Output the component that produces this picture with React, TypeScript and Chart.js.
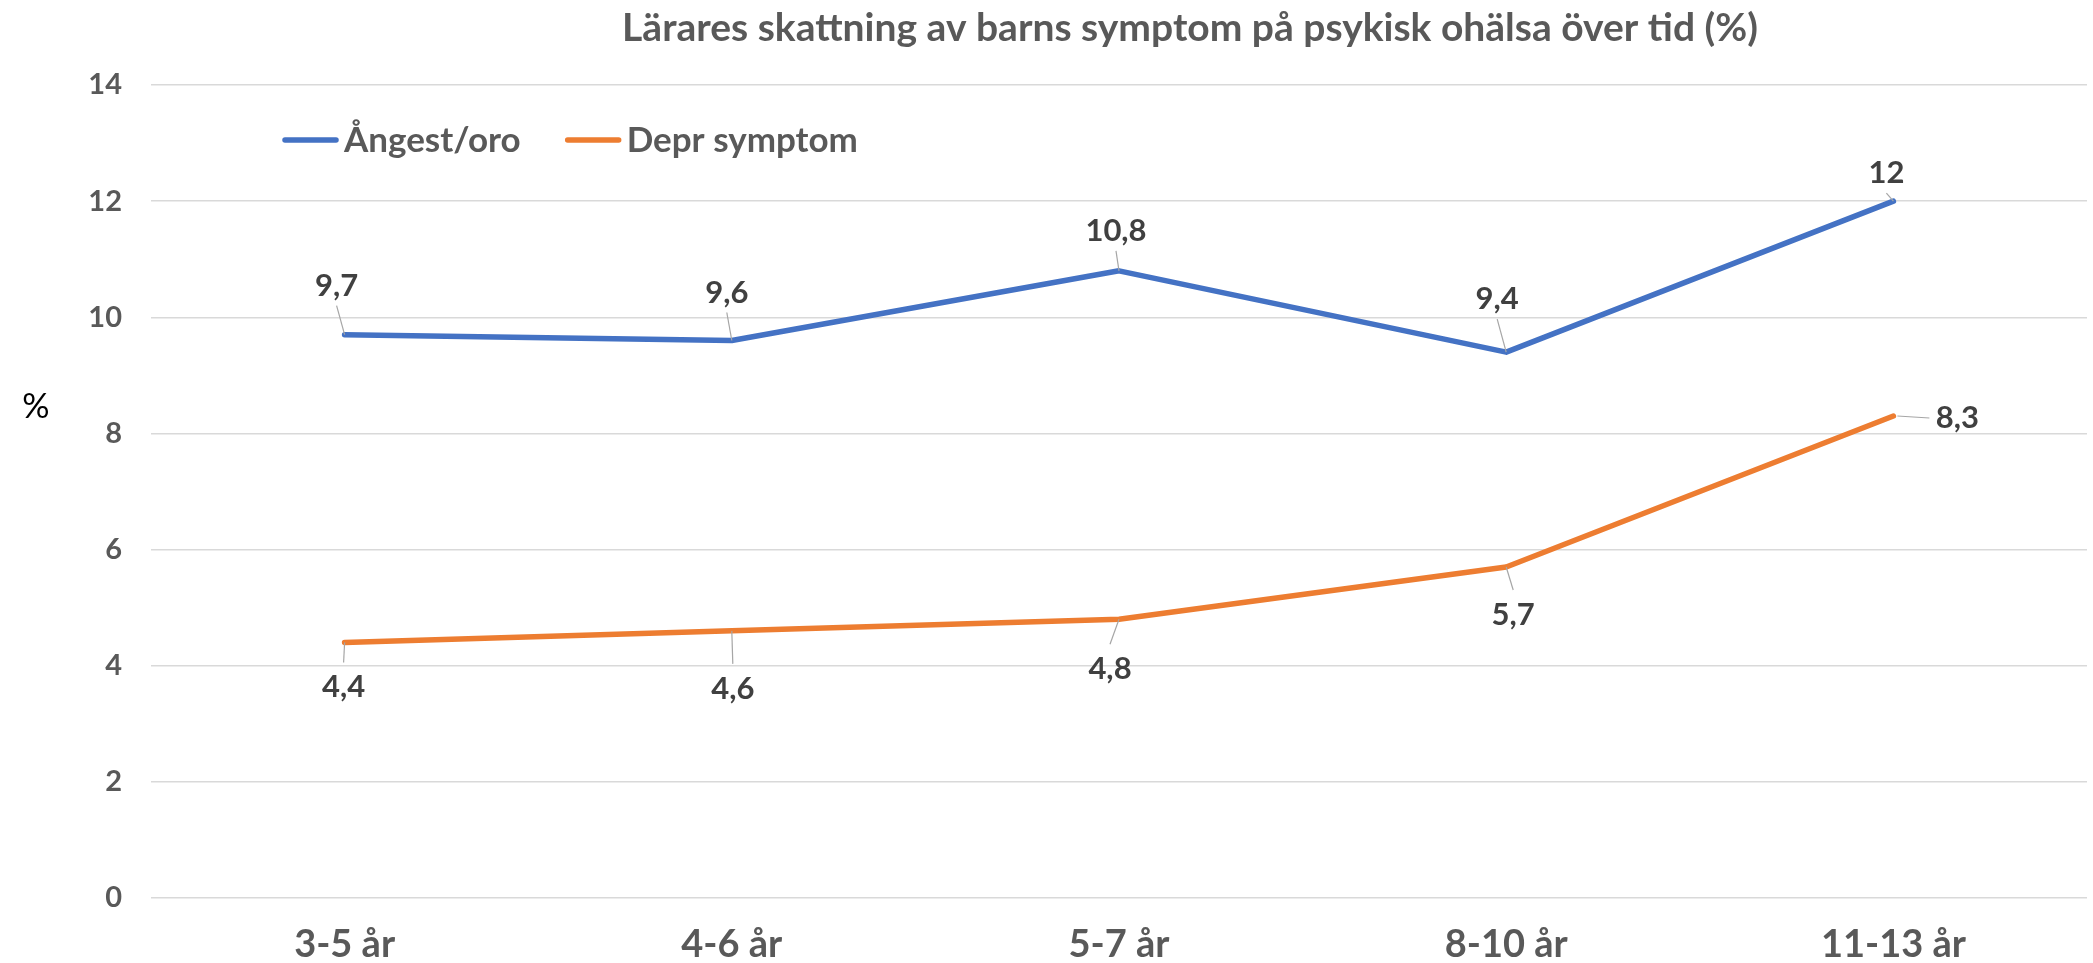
import React, { useEffect, useRef } from "react";
import { Chart, registerables } from "chart.js";

Chart.register(...registerables);

const categories = ["3-5 år", "4-6 år", "5-7 år", "8-10 år", "11-13 år"];
const angestValues = [9.7, 9.6, 10.8, 9.4, 12];
const deprValues = [4.4, 4.6, 4.8, 5.7, 8.3];
const seriesNames = ["Ångest/oro", "Depr symptom"];
const seriesColors = ["#4472C4", "#ED7D31"];
const yTicks = [0, 2, 4, 6, 8, 10, 12, 14];
const titleText = "Lärares skattning av barns symptom på psykisk ohälsa över tid (%)";
const yAxisTitle = "%";

// label placement offsets (layout only, px relative to the point)
const labelOffsets = [
  [[-8, -49], [-5, -48], [-3, -40], [-9, -53], [-7, -28]],
  [[-1, 45], [1, 58], [-9, 50], [7, 48], [64, 2]],
];

const FONT = "Lato, 'Open Sans', sans-serif";

const decorPlugin = {
  id: "decor",
  afterDraw(chart: any) {
    const ctx = chart.ctx;
    ctx.save();
    // title
    ctx.fillStyle = "#595959";
    ctx.font = `bold 39px ${FONT}`;
    ctx.textAlign = "center";
    ctx.textBaseline = "middle";
    ctx.fillText(titleText, 1190, 28);
    // y axis title
    ctx.fillStyle = "#000000";
    ctx.font = `normal 34px ${FONT}`;
    ctx.fillText(yAxisTitle, 36, 407);
    // legend
    let x = 285;
    const y = 140;
    ctx.font = `bold 35px ${FONT}`;
    ctx.textAlign = "left";
    chart.data.datasets.forEach((ds: any) => {
      ctx.strokeStyle = ds.borderColor;
      ctx.lineWidth = 5.5;
      ctx.lineCap = "round";
      ctx.beginPath();
      ctx.moveTo(x, y);
      ctx.lineTo(x + 51, y);
      ctx.stroke();
      ctx.fillStyle = "#595959";
      ctx.fillText(ds.label, x + 59, y + 1);
      x += 59 + ctx.measureText(ds.label).width + 47;
    });
    ctx.restore();
  },
  afterDatasetsDraw(chart: any) {
    const ctx = chart.ctx;
    ctx.save();
    chart.data.datasets.forEach((ds: any, di: number) => {
      const meta = chart.getDatasetMeta(di);
      meta.data.forEach((el: any, i: number) => {
        const [dx, dy] = labelOffsets[di][i];
        const px = el.x;
        const py = el.y;
        const cx = px + dx;
        const cy = py + dy;
        let ex: number, ey: number;
        if (Math.abs(dx) > 40) {
          ex = cx - Math.sign(dx) * 28;
          ey = cy;
        } else if (dy < 0) {
          ex = cx;
          ey = cy + 20;
        } else {
          ex = cx;
          ey = cy - 25;
        }
        const d = Math.hypot(ex - px, ey - py);
        if (d > 10) {
          ctx.strokeStyle = "#A6A6A6";
          ctx.lineWidth = 1.2;
          ctx.beginPath();
          if (Math.abs(dx) > 40) ctx.moveTo(px + 4, py);
          else ctx.moveTo(px, py);
          ctx.lineTo(ex, ey);
          ctx.stroke();
        }
        ctx.fillStyle = "#404040";
        ctx.font = `bold 31px ${FONT}`;
        ctx.textAlign = "center";
        ctx.textBaseline = "middle";
        ctx.fillText(String(ds.data[i]).replace(".", ","), cx, cy);
      });
    });
    ctx.restore();
  },
};

export default function App() {
  const ref = useRef<HTMLCanvasElement | null>(null);
  useEffect(() => {
    if (!ref.current) return;
    const chart = new Chart(ref.current, {
      type: "line",
      data: {
        labels: categories,
        datasets: [
          {
            label: seriesNames[0],
            data: angestValues,
            borderColor: seriesColors[0],
            backgroundColor: seriesColors[0],
            borderWidth: 5.5,
            pointRadius: 0,
            tension: 0,
            borderCapStyle: "round",
            borderJoinStyle: "round",
          },
          {
            label: seriesNames[1],
            data: deprValues,
            borderColor: seriesColors[1],
            backgroundColor: seriesColors[1],
            borderWidth: 5.5,
            pointRadius: 0,
            tension: 0,
            borderCapStyle: "round",
            borderJoinStyle: "round",
          },
        ],
      },
      options: {
        animation: false,
        responsive: true,
        maintainAspectRatio: false,
        layout: { padding: { top: 85, right: 6, left: 0, bottom: 0 } },
        plugins: {
          legend: { display: false },
          title: { display: false },
          tooltip: { enabled: false },
        },
        scales: {
          x: {
            offset: true,
            grid: { display: false, drawTicks: false },
            border: { display: false },
            ticks: {
              color: "#595959",
              font: { family: FONT, size: 38, weight: "bold" },
              padding: 24,
              maxRotation: 0,
              autoSkip: false,
            },
            afterFit: (s: any) => {
              s.height = 65;
            },
          },
          y: {
            min: 0,
            max: 14,
            grid: { color: "#D9D9D9", lineWidth: 1.5, drawTicks: false },
            border: { display: false },
            ticks: {
              color: "#595959",
              font: { family: FONT, size: 29, weight: "bold" },
              padding: 29,
              stepSize: 2,
            },
            afterBuildTicks: (s: any) => {
              s.ticks = yTicks.map((v) => ({ value: v }));
            },
            afterFit: (s: any) => {
              s.width = 151;
            },
          },
        },
      },
      plugins: [decorPlugin],
    });
    return () => chart.destroy();
  }, []);
  return (
    <div style={{ position: "fixed", left: 0, top: 0, width: 2093, height: 963, background: "#fff" }}>
      <canvas ref={ref} />
    </div>
  );
}
